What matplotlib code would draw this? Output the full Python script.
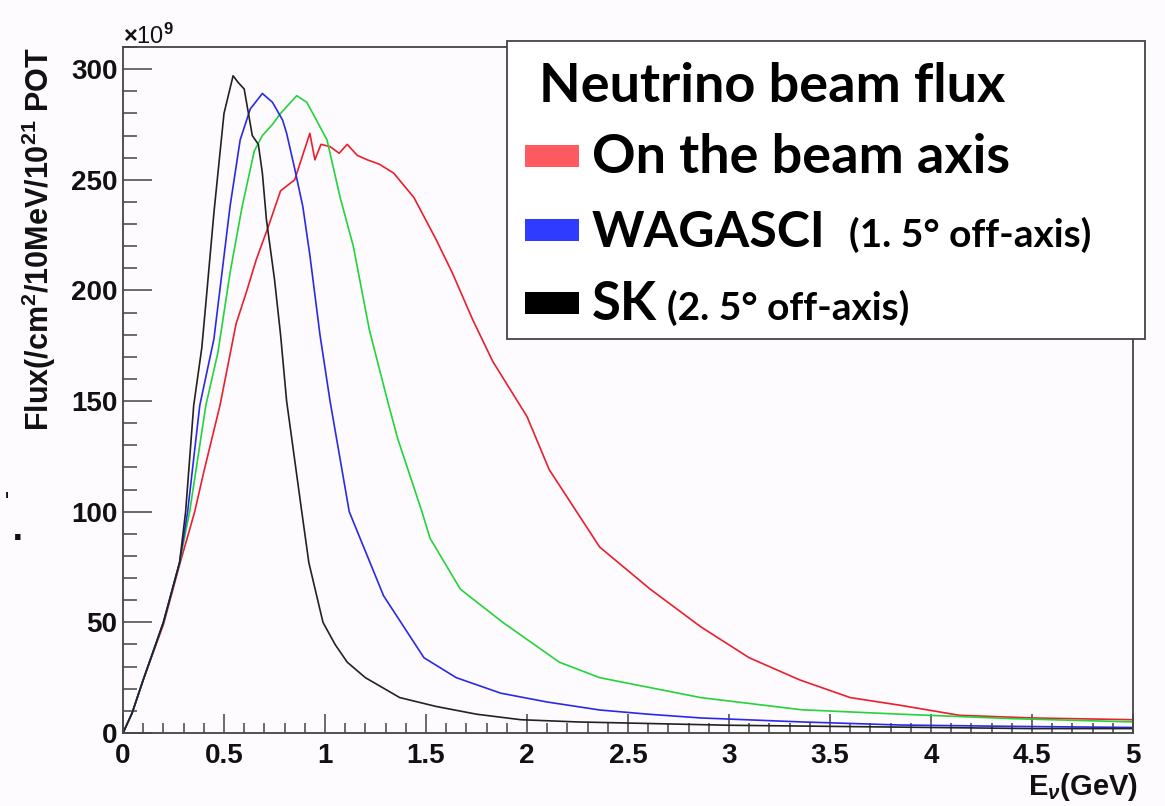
import matplotlib.pyplot as plt
from matplotlib.patches import Rectangle
from matplotlib.ticker import MultipleLocator, FuncFormatter

plt.rcParams['mathtext.fontset'] = 'custom'
plt.rcParams['mathtext.rm'] = 'Liberation Sans:bold'
plt.rcParams['mathtext.it'] = 'Liberation Sans:bold:italic'
plt.rcParams['mathtext.bf'] = 'Liberation Sans:bold'

# flux values, units of 1e9 /cm2/10MeV/1e21 POT
on_axis_e = [0, 0.045, 0.10, 0.20, 0.28, 0.355, 0.40, 0.48, 0.56, 0.61, 0.66, 0.72, 0.78,
             0.85, 0.875, 0.925, 0.95, 0.98, 1.025, 1.07, 1.11, 1.16, 1.21, 1.27, 1.34, 1.44,
             1.55, 1.63, 1.73, 1.83, 2.0, 2.11, 2.36, 2.61, 2.86, 3.1, 3.35, 3.6, 3.85,
             4.14, 4.5, 5.0]
on_axis_flux = [0, 9, 24, 49, 76, 100, 118, 148, 185, 199, 214, 229, 245,
                250, 257, 271, 259, 266, 265, 262, 266, 261, 259, 257, 253, 242,
                223, 208, 187, 168, 143, 119, 84, 65, 48, 34, 24, 16, 12.5,
                8, 6.8, 6]

green_e = [0, 0.045, 0.10, 0.20, 0.28, 0.33, 0.41, 0.47, 0.53, 0.59, 0.65, 0.69, 0.74,
           0.78, 0.86, 0.91, 0.975, 1.01, 1.075, 1.14, 1.22, 1.31, 1.36, 1.48, 1.52, 1.67,
           1.88, 2.16, 2.36, 2.86, 3.36, 3.85, 4.4, 5.0]
green_flux = [0, 9, 24, 50, 77, 100, 148, 172, 208, 238, 263, 270, 275,
              280, 288, 285, 274, 268, 242, 220, 182, 150, 133, 100, 88, 65,
              50, 32, 25, 16, 10.5, 8.5, 6.5, 5]

wagasci_e = [0, 0.045, 0.10, 0.20, 0.28, 0.32, 0.38, 0.45, 0.49, 0.53, 0.58, 0.63, 0.69,
             0.74, 0.79, 0.81, 0.85, 0.89, 0.925, 0.975, 1.025, 1.12, 1.29, 1.49, 1.65,
             1.87, 2.1, 2.36, 2.6, 2.86, 3.36, 3.85, 4.4, 5.0]
wagasci_flux = [0, 9, 24, 50, 77, 100, 148, 178, 208, 238, 268, 282, 289,
                285, 277, 271, 255, 238, 216, 180, 150, 100, 62, 34, 25,
                18, 14, 10.4, 8.5, 6.8, 5, 3.6, 3, 2.5]

sk_e = [0, 0.045, 0.10, 0.20, 0.28, 0.31, 0.35, 0.39, 0.41, 0.45, 0.50, 0.545, 0.57, 0.60,
        0.64, 0.67, 0.69, 0.71, 0.75, 0.78, 0.81, 0.885, 0.92, 0.99, 1.05, 1.11, 1.2, 1.37,
        1.55, 1.75, 1.97, 2.25, 2.5, 3.0, 3.5, 4.0, 4.5, 5.0]
sk_flux = [0, 9, 24, 50, 77, 100, 148, 174, 194, 235, 280, 297, 294, 291,
           270, 266, 253, 232, 205, 180, 150, 100, 77, 50, 40, 32, 25, 16,
           12, 8.5, 6, 5, 4.5, 3.5, 3, 2.5, 2, 2]

legend_title = 'Neutrino beam flux'
legend_main = ['On the beam axis', 'WAGASCI', 'SK']
legend_sub = ['', '(1. 5\u00b0 off-axis)', '(2. 5\u00b0 off-axis)']
legend_colors = ['#ff5a5f', '#2f3cff', '#000000']

W, H = 1165, 806
bg = '#fdfbfd'
fig = plt.figure(figsize=(W / 100, H / 100), dpi=100, facecolor=bg)
ax = fig.add_axes([123 / W, 1 - 733 / H, (1133 - 123) / W, (733 - 47) / H])
ax.set_facecolor(bg)

ax.plot(on_axis_e, on_axis_flux, color='#ea1f2b', lw=1.2)
ax.plot(green_e, green_flux, color='#22d43a', lw=1.2)
ax.plot(wagasci_e, wagasci_flux, color='#2a2ae6', lw=1.2)
ax.plot(sk_e, sk_flux, color='#222222', lw=1.2)

ax.set_xlim(0, 5)
ax.set_ylim(0, 310)
ax.xaxis.set_major_locator(MultipleLocator(0.5))
ax.xaxis.set_minor_locator(MultipleLocator(0.1))
ax.yaxis.set_major_locator(MultipleLocator(50))
ax.yaxis.set_minor_locator(MultipleLocator(10))
ax.xaxis.set_major_formatter(FuncFormatter(lambda v, p: f'{v:g}'))

for s in ax.spines.values():
    s.set_color('#444444')
    s.set_linewidth(1.3)
ax.tick_params(which='both', direction='in', top=False, right=False, color='#444444', width=1.1)
ax.tick_params(axis='y', which='major', length=21, pad=4)
ax.tick_params(axis='y', which='minor', length=10)
ax.tick_params(axis='x', which='major', length=14, pad=7)
ax.tick_params(axis='x', which='minor', length=7)
for lab in ax.get_xticklabels() + ax.get_yticklabels():
    lab.set_family('Liberation Sans')
    lab.set_weight('bold')
    lab.set_fontsize(20)
    lab.set_color('#111111')

fig.text(39 / W, 1 - 47 / H, r'Flux(/cm$^{2}$/10MeV/10$^{21}$ POT', rotation=90,
         ha='center', va='top', fontsize=22, family='Liberation Sans', weight='bold',
         color='#111111')
fig.text(123 / W, 1 - 44 / H, r'$\times$10$^{9}$', ha='left', va='baseline',
         fontsize=17, family='Liberation Sans', color='#111111')
fig.text(1138 / W, 1 - 795 / H, r'E$_{\nu}$(GeV)', ha='right', va='baseline',
         fontsize=21, family='Liberation Sans', weight='bold', color='#111111')

# stray marks at the left edge of the slide
fig.text(4 / W, 1 - 508 / H, "'", fontsize=16, color='#111111')
fig.text(12 / W, 1 - 540 / H, '.', fontsize=22, color='#111111', weight='bold')

# legend box drawn in figure coordinates
fig.add_artist(Rectangle((507 / W, 1 - 339 / H), (1145 - 507) / W, (339 - 41) / H,
                         transform=fig.transFigure, facecolor='white',
                         edgecolor='#444444', lw=1.3, zorder=5))
fig.text(539 / W, 1 - 102 / H, legend_title, ha='left', va='baseline', fontsize=39,
         family='Lato', weight='bold', zorder=6)
rows_y = [173, 247, 320]
main_size = [39, 36, 38]
sub_x = [0, 849, 667]
for i in range(3):
    yb = rows_y[i]
    fig.add_artist(Rectangle((525 / W, 1 - (yb - 6) / H), 54 / W, 22 / H,
                             transform=fig.transFigure, facecolor=legend_colors[i],
                             edgecolor='none', zorder=6))
    fig.text(592 / W, 1 - yb / H, legend_main[i], ha='left', va='baseline',
             fontsize=main_size[i], family='Lato', weight='bold', zorder=6)
    if legend_sub[i]:
        fig.text(sub_x[i] / W, 1 - yb / H, legend_sub[i], ha='left', va='baseline',
                 fontsize=28, family='Lato', weight='bold', zorder=6)

fig.savefig('out.png', dpi=100, facecolor=bg)
